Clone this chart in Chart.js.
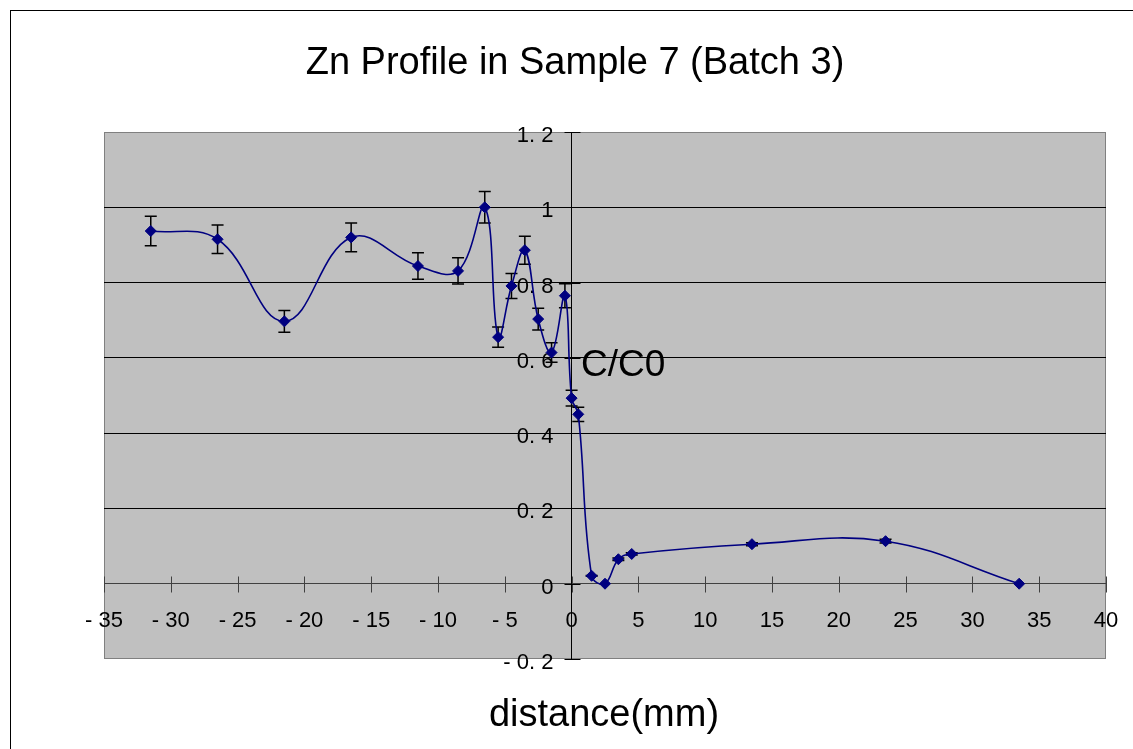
<!DOCTYPE html>
<html>
<head>
<meta charset="utf-8">
<title>Zn Profile in Sample 7 (Batch 3)</title>
<script src="https://cdn.jsdelivr.net/npm/chart.js@4.4.0/dist/chart.umd.min.js"></script>
<style>
  html, body { margin: 0; padding: 0; background: #fff; }
  canvas { display: block; }
</style>
</head>
<body>
<canvas id="znChart" width="1133" height="749"></canvas>
<script>
// distance from the interface (mm)
const distance = [-31.5, -26.5, -21.5, -16.5, -11.5, -8.5, -6.5, -5.5, -4.5, -3.5, -2.5, -1.5, -0.5, 0, 0.5, 1.5, 2.5, 3.5, 4.5, 13.5, 23.5, 33.5];
// relative concentration C/C0
const concentration = [0.937, 0.915, 0.697, 0.920, 0.844, 0.831, 1.0, 0.655, 0.791, 0.886, 0.703, 0.614, 0.765, 0.493, 0.450, 0.021, 0.0, 0.065, 0.079, 0.105, 0.113, 0.0];
// +/- error on each point
const errorBars = [0.039, 0.038, 0.029, 0.038, 0.035, 0.035, 0.042, 0.027, 0.033, 0.037, 0.029, 0.026, 0.032, 0.021, 0.019, 0.001, 0.0, 0.003, 0.003, 0.004, 0.005, 0.0];

const xTickValues = [-35, -30, -25, -20, -15, -10, -5, 0, 5, 10, 15, 20, 25, 30, 35, 40];
const yTickValues = [-0.2, 0, 0.2, 0.4, 0.6, 0.8, 1.0, 1.2];

const FONT = 'Liberation Sans, Arial, sans-serif';

// Excel style labels: "- 35", "0. 8"
function fmt(v) {
  const r = Math.round(v * 10) / 10;
  let s = String(Math.abs(r)).replace('.', '. ');
  return r < 0 ? '- ' + s : s;
}

const excelLook = {
  id: 'excelLook',
  beforeDraw(chart) {
    const { ctx, chartArea: a } = chart;
    ctx.save();
    ctx.fillStyle = '#fff';
    ctx.fillRect(0, 0, chart.width, chart.height);
    ctx.strokeStyle = '#000';
    ctx.lineWidth = 1;
    ctx.strokeRect(10.5, 10.5, chart.width + 20, chart.height + 20);
    ctx.fillStyle = '#c0c0c0';
    ctx.fillRect(a.left, a.top, a.right - a.left, a.bottom - a.top);
    ctx.strokeStyle = '#808080';
    ctx.strokeRect(a.left + 0.5, a.top + 0.5, a.right - a.left - 1, a.bottom - a.top - 1);
    ctx.restore();
  },
  beforeDatasetsDraw(chart) {
    const { ctx } = chart;
    const xs = chart.scales.x, ys = chart.scales.y;
    const x0 = Math.round(xs.getPixelForValue(0)) + 0.5;
    const y0 = Math.round(ys.getPixelForValue(0)) + 0.5;
    ctx.save();
    ctx.lineWidth = 1;
    // cross tick marks
    ctx.strokeStyle = '#404040';
    xTickValues.forEach(v => {
      const px = Math.round(xs.getPixelForValue(v)) + 0.5;
      ctx.beginPath(); ctx.moveTo(px, y0 - 8); ctx.lineTo(px, y0 + 8); ctx.stroke();
    });
    ctx.strokeStyle = '#000';
    yTickValues.forEach(v => {
      const py = Math.round(ys.getPixelForValue(v)) + 0.5;
      ctx.beginPath(); ctx.moveTo(x0 - 8, py); ctx.lineTo(x0 + 8, py); ctx.stroke();
    });
    // y tick labels, left of the axis line
    ctx.fillStyle = '#000';
    ctx.font = '22px ' + FONT;
    ctx.textAlign = 'right';
    ctx.textBaseline = 'middle';
    ys.ticks.forEach(t => {
      ctx.fillText(fmt(t.value), x0 - 19, ys.getPixelForValue(t.value) + 4);
    });
    // error bars
    ctx.lineWidth = 1.5;
    const meta = chart.getDatasetMeta(0);
    meta.data.forEach((pt, i) => {
      const e = errorBars[i];
      if (!e) return;
      const top = ys.getPixelForValue(concentration[i] + e);
      const bot = ys.getPixelForValue(concentration[i] - e);
      ctx.beginPath();
      ctx.moveTo(pt.x, top); ctx.lineTo(pt.x, bot);
      ctx.moveTo(pt.x - 6, top); ctx.lineTo(pt.x + 6, top);
      ctx.moveTo(pt.x - 6, bot); ctx.lineTo(pt.x + 6, bot);
      ctx.stroke();
    });
    ctx.restore();
  },
  afterDraw(chart) {
    const { ctx } = chart;
    ctx.save();
    ctx.fillStyle = '#000';
    ctx.font = '38px ' + FONT;
    ctx.textBaseline = 'middle';
    ctx.textAlign = 'center';
    ctx.fillText('Zn Profile in Sample 7 (Batch 3)', 575, 64);
    ctx.fillText('distance(mm)', 604, 716);
    ctx.font = '37px ' + FONT;
    ctx.textAlign = 'left';
    ctx.fillText('C/C0', 581, 366);
    ctx.restore();
  }
};

new Chart(document.getElementById('znChart'), {
  type: 'scatter',
  data: {
    datasets: [{
      label: 'C/C0',
      data: distance.map((x, i) => ({ x: x, y: concentration[i] })),
      showLine: true,
      tension: 0.4,
      borderColor: '#000080',
      borderWidth: 1.6,
      pointStyle: 'rectRot',
      pointRadius: 5.5,
      pointBorderWidth: 1,
      pointBorderColor: '#000080',
      pointBackgroundColor: '#000080'
    }]
  },
  options: {
    responsive: false,
    animation: false,
    devicePixelRatio: 1,
    layout: { padding: { left: 104, top: 132, right: 27, bottom: 90 } },
    plugins: {
      legend: { display: false },
      tooltip: { enabled: false },
      title: { display: false }
    },
    scales: {
      x: {
        type: 'linear',
        min: -35,
        max: 40,
        position: { y: 0 },
        afterBuildTicks: s => { s.ticks = xTickValues.map(v => ({ value: v })); },
        afterFit: s => { s.paddingLeft = 0; s.paddingRight = 0; },
        grid: { drawOnChartArea: false, drawTicks: false },
        border: { display: true, color: '#404040', width: 1 },
        ticks: {
          padding: 24,
          color: '#000',
          autoSkip: false,
          maxRotation: 0,
          font: { family: FONT, size: 22 },
          callback: v => fmt(v)
        }
      },
      y: {
        type: 'linear',
        min: -0.2,
        max: 1.2,
        position: { x: 0 },
        afterBuildTicks: s => { s.ticks = yTickValues.map(v => ({ value: v })); },
        grid: {
          drawTicks: false,
          color: c => (c.tick && c.tick.value > 0.05 && c.tick.value < 1.1) ? '#000' : 'rgba(0,0,0,0)'
        },
        border: { display: true, color: '#000', width: 1 },
        ticks: { display: false }
      }
    }
  },
  plugins: [excelLook]
});
</script>
</body>
</html>
